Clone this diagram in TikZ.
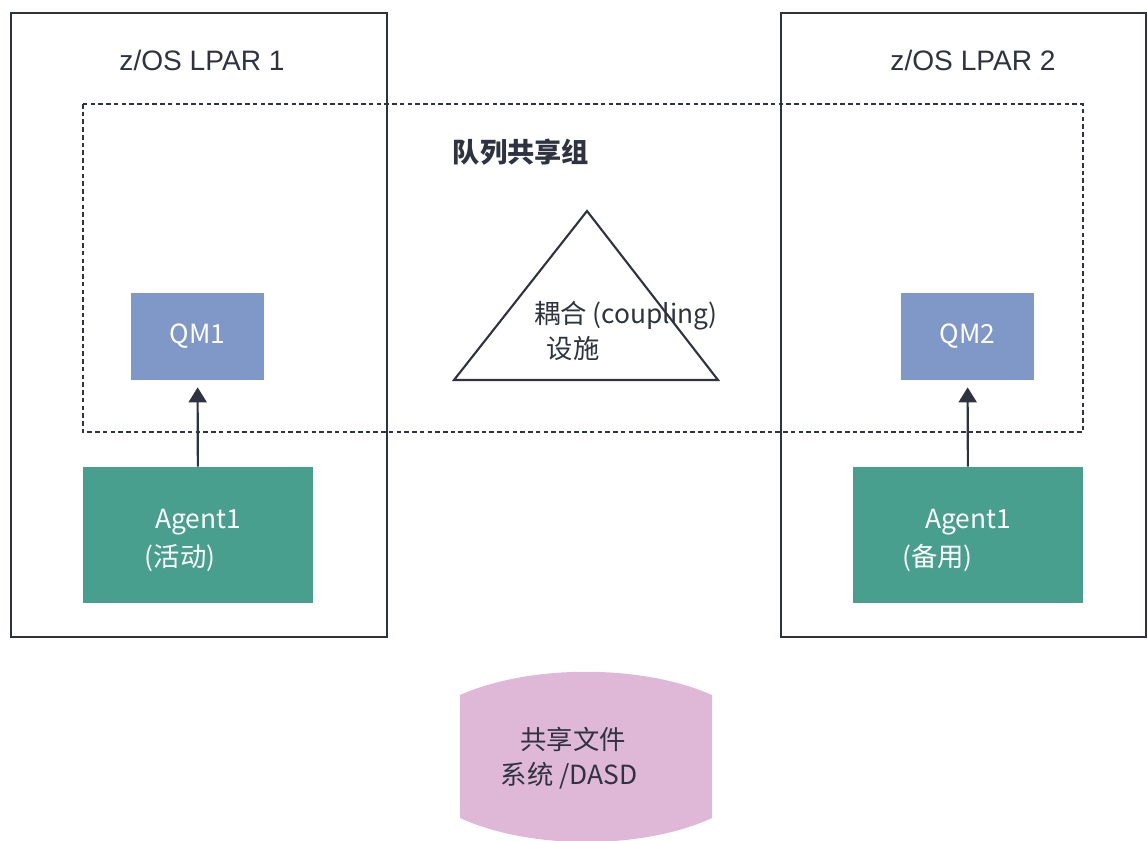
\documentclass[tikz,border=0pt]{standalone}
\usepackage{fontspec}
\setmainfont{Liberation Sans}
\newfontfamily\cjk{Noto Sans CJK SC}
\usetikzlibrary{arrows.meta}

\definecolor{linedark}{HTML}{2F3341}
\definecolor{qmblue}{HTML}{7F98C8}
\definecolor{agentgreen}{HTML}{489F8E}
\definecolor{dasdpink}{HTML}{DFB8D8}

\begin{document}
\begin{tikzpicture}[x=0.02cm, y=-0.02cm,
    lpar/.style={draw=linedark, line width=0.9pt},
    title/.style={font=\fontsize{16}{18}\selectfont, text=linedark},
    group/.style={draw=linedark, line width=0.9pt, dash pattern=on 2.6pt off 1.8pt},
    qm/.style={fill=qmblue, minimum width=2.66cm, minimum height=1.74cm,
               text=white, font=\cjk\fontsize{15}{18}\selectfont},
    agent/.style={fill=agentgreen, minimum width=4.6cm, minimum height=2.72cm,
                  align=center, text=white, font=\cjk\fontsize{15}{22}\selectfont},
    txt/.style={align=center, text=linedark, font=\cjk\fontsize{15}{20}\selectfont},
    arrow/.style={-{Triangle[width=0.36cm,length=0.3cm]}, line width=1.2pt,
                  draw=linedark, shorten >=0.14cm}
]
\useasboundingbox (0,0) rectangle (1148,840);

% --- LPARs ---
\draw[lpar] (11,13) rectangle (387,637);
\draw[lpar] (781,13) rectangle (1146,637);
\node[title] (lpar1) at (202,60) {z/OS LPAR 1};
\node[title] (lpar2) at (973,60) {z/OS LPAR 2};

% --- queue sharing group ---
\draw[group] (83,104) rectangle (1083,432);
\node[txt, font=\cjk\bfseries\fontsize{15.5}{18}\selectfont] (qsg) at (521,152) {队列共享组};

% --- coupling facility ---
\coordinate (apex) at (587,211);
\coordinate (baseL) at (454,380);
\coordinate (baseR) at (718,380);
\draw[linedark, line width=1.2pt] (apex) -- (baseR) -- (baseL) -- cycle;
\node[txt] (cf) at (626,331) {耦合 (coupling)\\设施\hspace*{2.12cm}};

% --- queue managers and agents ---
\node[qm] (qm1) at (197.5,336.5) {QM1};
\node[qm] (qm2) at (967.5,336.5) {QM2};
\node[agent] (agent1) at (198,535) {\rule{0pt}{0.6cm}Agent1\\(活动)\hspace*{0.72cm}};
\node[agent] (agent2) at (968,535) {\rule{0pt}{0.6cm}Agent1\\(备用)\hspace*{1.22cm}};

\draw[arrow] (agent1) -- (qm1);
\draw[arrow] (agent2) -- (qm2);

% --- shared file system ---
\fill[dasdpink] (460,695) .. controls (530,664) and (642,664) .. (712,695)
    -- (712,818) .. controls (642,850) and (530,850) .. (460,818) -- cycle;
\node[txt] (dasd) at (573,758) {共享文件\\系统 /DASD\hspace*{0.16cm}};

\end{tikzpicture}
\end{document}
